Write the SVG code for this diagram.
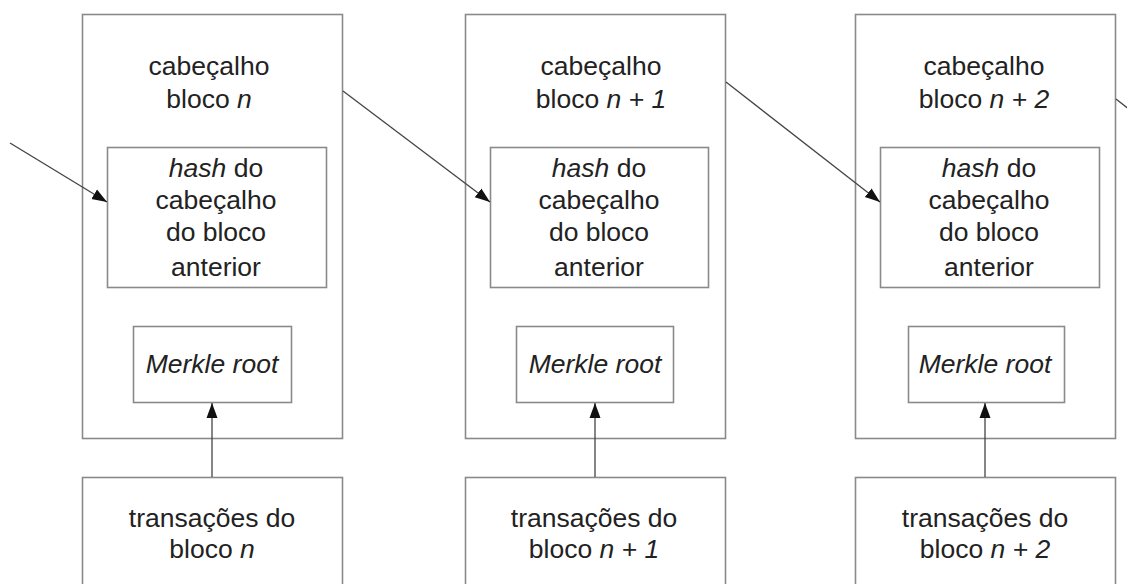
<svg xmlns="http://www.w3.org/2000/svg" width="1127" height="584" viewBox="0 0 1127 584">
<defs>
<style>
.box{fill:#fff;stroke:#8a8a8a;stroke-width:1.6}
.t{font-family:"Liberation Sans",Arial,sans-serif;font-size:26.5px;fill:#222;text-anchor:middle}
.i{font-style:italic}
.c{stroke:#444;stroke-width:1.3;fill:none;marker-end:url(#ah)}
</style>
<marker id="ah" markerUnits="userSpaceOnUse" markerWidth="17" markerHeight="13" refX="15" refY="6" orient="auto">
<path d="M0,0.5 L15,6 L0,11.5 z" fill="#111"/>
</marker>
</defs>
<rect width="1127" height="584" fill="#fff"/>

<g id="bloco-n">
<rect class="box" x="82.5" y="14.5" width="260" height="424"/>
<text class="t" x="209" y="75">cabeçalho</text>
<text class="t" x="209" y="108">bloco <tspan class="i">n</tspan></text>
<rect class="box" x="107.5" y="147.5" width="219" height="140"/>
<text class="t" x="216" y="177"><tspan class="i">hash</tspan> do</text>
<text class="t" x="216" y="209">cabeçalho</text>
<text class="t" x="216" y="241">do bloco</text>
<text class="t" x="216" y="276">anterior</text>
<rect class="box" x="133.5" y="326.5" width="158" height="76"/>
<text class="t i" x="212" y="373">Merkle root</text>
</g>
<g id="transacoes-n">
<rect class="box" x="82.5" y="477.5" width="260" height="130"/>
<text class="t" x="212" y="527">transações do</text>
<text class="t" x="212" y="558">bloco <tspan class="i">n</tspan></text>
</g>

<g id="bloco-n1">
<rect class="box" x="465.5" y="14.5" width="260" height="424"/>
<text class="t" x="601" y="75">cabeçalho</text>
<text class="t" x="601" y="108">bloco <tspan class="i">n + 1</tspan></text>
<rect class="box" x="490.5" y="147.5" width="218" height="140"/>
<text class="t" x="599" y="177"><tspan class="i">hash</tspan> do</text>
<text class="t" x="599" y="209">cabeçalho</text>
<text class="t" x="599" y="241">do bloco</text>
<text class="t" x="599" y="276">anterior</text>
<rect class="box" x="516.5" y="326.5" width="157" height="76"/>
<text class="t i" x="595" y="373">Merkle root</text>
</g>
<g id="transacoes-n1">
<rect class="box" x="465.5" y="477.5" width="260" height="130"/>
<text class="t" x="594" y="527">transações do</text>
<text class="t" x="594" y="558">bloco <tspan class="i">n + 1</tspan></text>
</g>

<g id="bloco-n2">
<rect class="box" x="855.5" y="14.5" width="260" height="424"/>
<text class="t" x="984" y="75">cabeçalho</text>
<text class="t" x="984" y="108">bloco <tspan class="i">n + 2</tspan></text>
<rect class="box" x="880.5" y="147.5" width="219" height="140"/>
<text class="t" x="989" y="177"><tspan class="i">hash</tspan> do</text>
<text class="t" x="989" y="209">cabeçalho</text>
<text class="t" x="989" y="241">do bloco</text>
<text class="t" x="989" y="276">anterior</text>
<rect class="box" x="908.5" y="326.5" width="156" height="76"/>
<text class="t i" x="985" y="373">Merkle root</text>
</g>
<g id="transacoes-n2">
<rect class="box" x="855.5" y="477.5" width="260" height="130"/>
<text class="t" x="985" y="527">transações do</text>
<text class="t" x="985" y="558">bloco <tspan class="i">n + 2</tspan></text>
</g>

<g id="conectores">
<line class="c" x1="10" y1="143" x2="107" y2="202"/>
<line class="c" x1="343" y1="91" x2="490" y2="202"/>
<line class="c" x1="726" y1="82" x2="880" y2="202"/>
<line x1="1116" y1="99" x2="1130" y2="110" stroke="#444" stroke-width="1.3"/>
<line class="c" x1="212" y1="477" x2="212" y2="403"/>
<line class="c" x1="595" y1="477" x2="595" y2="403"/>
<line class="c" x1="985" y1="477" x2="985" y2="403"/>
</g>
</svg>
